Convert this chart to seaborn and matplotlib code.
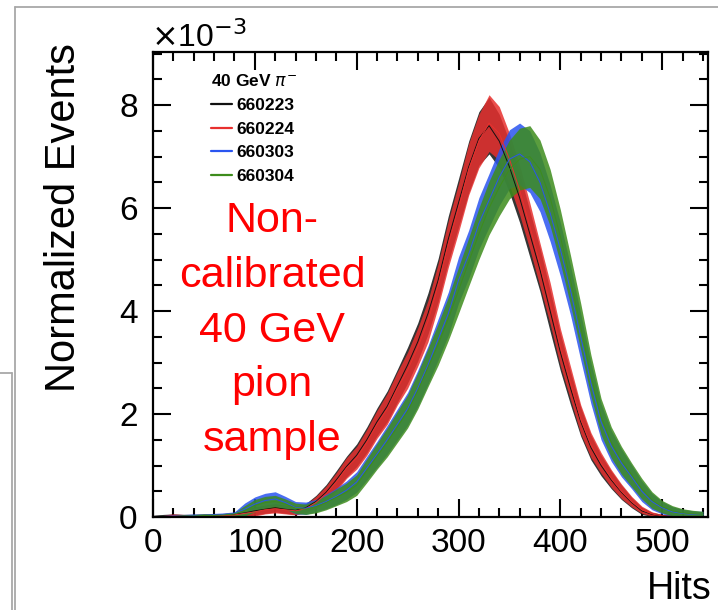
import numpy as np
import pandas as pd
import matplotlib
matplotlib.use("Agg")
import matplotlib.pyplot as plt
import seaborn as sns
from matplotlib.ticker import MultipleLocator, FuncFormatter
from matplotlib.lines import Line2D

# ---------------- data (normalized events in units of 1e-3) ----------------
hits = list(range(0, 550, 10))
runs = ["660223", "660224", "660303", "660304"]
colors = ["#111111", "#e8302e", "#2a55f0", "#3d8c1c"]

events_660223 = [0.0, 0.02, 0.03, 0.02, 0.02, 0.03, 0.03, 0.04, 0.05, 0.08,
                 0.12, 0.15, 0.18, 0.15, 0.13, 0.18, 0.30, 0.48, 0.72, 0.98,
                 1.20, 1.50, 1.85, 2.15, 2.55, 2.95, 3.40, 3.95, 4.60, 5.40,
                 6.10, 6.80, 7.35, 7.60, 7.30, 6.80, 6.20, 5.50, 4.80, 4.00,
                 3.20, 2.50, 1.85, 1.35, 1.00, 0.72, 0.48, 0.28, 0.12, 0.05,
                 0.02, 0.01, 0.0, 0.0, 0.0]
events_660224 = [0.0, 0.01, 0.03, 0.02, 0.02, 0.02, 0.03, 0.03, 0.04, 0.07,
                 0.10, 0.14, 0.16, 0.14, 0.12, 0.16, 0.28, 0.45, 0.68, 0.95,
                 1.15, 1.45, 1.80, 2.10, 2.50, 2.85, 3.30, 3.80, 4.50, 5.30,
                 6.00, 6.75, 7.30, 7.65, 7.45, 6.95, 6.35, 5.65, 4.90, 4.15,
                 3.30, 2.60, 1.90, 1.40, 1.05, 0.75, 0.50, 0.30, 0.14, 0.06,
                 0.02, 0.01, 0.0, 0.0, 0.0]
events_660303 = [0.0, 0.01, 0.02, 0.02, 0.03, 0.03, 0.04, 0.05, 0.07, 0.15,
                 0.25, 0.32, 0.35, 0.28, 0.18, 0.17, 0.22, 0.30, 0.40, 0.52,
                 0.68, 0.95, 1.22, 1.50, 1.80, 2.10, 2.50, 2.95, 3.45, 3.95,
                 4.60, 5.10, 5.70, 6.15, 6.60, 6.95, 7.05, 6.90, 6.50, 5.90,
                 5.20, 4.40, 3.50, 2.60, 1.85, 1.38, 1.05, 0.78, 0.50, 0.30,
                 0.18, 0.10, 0.07, 0.05, 0.05]
events_660304 = [0.0, 0.01, 0.01, 0.02, 0.02, 0.03, 0.03, 0.04, 0.06, 0.12,
                 0.22, 0.28, 0.30, 0.25, 0.17, 0.15, 0.20, 0.28, 0.38, 0.48,
                 0.62, 0.90, 1.18, 1.45, 1.75, 2.05, 2.45, 2.90, 3.35, 3.85,
                 4.40, 4.95, 5.50, 6.00, 6.40, 6.75, 6.95, 7.00, 6.75, 6.20,
                 5.45, 4.60, 3.70, 2.75, 1.95, 1.45, 1.10, 0.82, 0.55, 0.33,
                 0.20, 0.12, 0.08, 0.06, 0.05]

# bin-to-bin fluctuation half-width (units of 1e-3)
spread_660223 = [0.03, 0.03, 0.03, 0.03, 0.03, 0.03, 0.03, 0.03, 0.03, 0.08,
                 0.08, 0.08, 0.08, 0.08, 0.08, 0.08, 0.12, 0.15, 0.18, 0.20,
                 0.22, 0.25, 0.27, 0.30, 0.32, 0.35, 0.37, 0.40, 0.42, 0.45,
                 0.47, 0.50, 0.52, 0.55, 0.52, 0.50, 0.48, 0.45, 0.42, 0.40,
                 0.36, 0.32, 0.28, 0.24, 0.20, 0.17, 0.14, 0.10, 0.07, 0.04,
                 0.03, 0.02, 0.02, 0.02, 0.02]
spread_660224 = [0.03, 0.03, 0.03, 0.03, 0.03, 0.03, 0.03, 0.03, 0.03, 0.08,
                 0.08, 0.08, 0.08, 0.08, 0.08, 0.08, 0.12, 0.15, 0.18, 0.20,
                 0.22, 0.25, 0.27, 0.30, 0.32, 0.35, 0.37, 0.40, 0.42, 0.45,
                 0.47, 0.50, 0.52, 0.55, 0.52, 0.50, 0.48, 0.45, 0.42, 0.40,
                 0.36, 0.32, 0.28, 0.24, 0.20, 0.17, 0.14, 0.10, 0.07, 0.04,
                 0.03, 0.02, 0.02, 0.02, 0.02]
spread_660303 = [0.03, 0.03, 0.03, 0.03, 0.03, 0.03, 0.03, 0.03, 0.03, 0.12,
                 0.14, 0.14, 0.14, 0.12, 0.12, 0.12, 0.12, 0.14, 0.16, 0.18,
                 0.20, 0.23, 0.25, 0.28, 0.30, 0.32, 0.35, 0.37, 0.40, 0.42,
                 0.45, 0.47, 0.50, 0.52, 0.55, 0.57, 0.60, 0.60, 0.57, 0.55,
                 0.52, 0.48, 0.45, 0.40, 0.35, 0.30, 0.27, 0.23, 0.20, 0.16,
                 0.12, 0.10, 0.08, 0.07, 0.06]
spread_660304 = [0.03, 0.03, 0.03, 0.03, 0.03, 0.03, 0.03, 0.03, 0.03, 0.10,
                 0.12, 0.12, 0.12, 0.10, 0.10, 0.10, 0.12, 0.14, 0.16, 0.18,
                 0.20, 0.23, 0.25, 0.28, 0.30, 0.32, 0.35, 0.37, 0.40, 0.42,
                 0.45, 0.47, 0.50, 0.52, 0.55, 0.57, 0.60, 0.60, 0.57, 0.55,
                 0.52, 0.48, 0.45, 0.40, 0.35, 0.30, 0.27, 0.23, 0.20, 0.16,
                 0.12, 0.10, 0.08, 0.07, 0.06]

centers = [events_660223, events_660224, events_660303, events_660304]
spreads = [spread_660223, spread_660224, spread_660303, spread_660304]

rows = []
for run, cen, spr in zip(runs, centers, spreads):
    for h, v, e in zip(hits, cen, spr):
        for val in (max(v - e, 0.0), v, v + e):
            rows.append((run, h, val * 1e-3))
df = pd.DataFrame(rows, columns=["run", "hits", "events"])

# ---------------- figure ----------------
sns.set_theme(style="white")
plt.rcParams["font.family"] = ["Liberation Sans", "DejaVu Sans"]
plt.rcParams["text.color"] = "black"

fig = plt.figure(figsize=(7.18, 6.10), dpi=100)
ax = fig.add_axes([153 / 718, 1 - 517 / 610, 555 / 718, 465 / 610])

sns.lineplot(data=df, x="hits", y="events", hue="run", hue_order=runs,
             palette=colors, estimator="median", errorbar=("pi", 100),
             err_kws={"alpha": 0.85, "linewidth": 0}, linewidth=0.7, ax=ax)

ax.set_xlim(0, 545)
ax.set_ylim(0, 9.03e-3)
ax.xaxis.set_major_locator(MultipleLocator(100))
ax.xaxis.set_minor_locator(MultipleLocator(20))
ax.yaxis.set_major_locator(MultipleLocator(2e-3))
ax.yaxis.set_minor_locator(MultipleLocator(0.5e-3))
ax.yaxis.set_major_formatter(FuncFormatter(lambda v, p: f"{v * 1e3:.0f}"))
ax.tick_params(which="both", direction="in", top=True, right=True,
               bottom=True, left=True, width=1.5, color="black",
               labelcolor="black", labelsize=24)
ax.tick_params(which="major", length=13)
ax.tick_params(which="minor", length=6.5)
ax.tick_params(axis="x", pad=8)
ax.tick_params(axis="y", pad=11)
for sp in ax.spines.values():
    sp.set_visible(True)
    sp.set_color("black")
    sp.set_linewidth(1.6)
ax.set_xlabel("")
ax.set_ylabel("")

handles, labels = ax.get_legend_handles_labels()
for hd in handles:
    hd.set_linewidth(1.6)
ax.legend(handles, labels, title=r"40 GeV $\pi^{-}$", loc="upper left",
          bbox_to_anchor=(0.105, 0.955), frameon=False,
          prop={"weight": "bold", "size": 12.5},
          title_fontproperties={"weight": "bold", "size": 12.5},
          handlelength=1.2, handletextpad=0.25, labelspacing=0.5,
          borderpad=0, borderaxespad=0, alignment="left")

# axis titles and exponent
fig.text(64 / 718, 1 - 218 / 610, "Normalized Events", rotation=90,
         ha="center", va="center", fontsize=30)
fig.text(712 / 718, 1 - 599 / 610, "Hits", ha="right", va="baseline",
         fontsize=27)
fig.text(151 / 718, 1 - 47 / 610, r"$\times$10$^{-3}$", ha="left",
         va="baseline", fontsize=23)

# red annotation
note_lines = ["Non-", "calibrated", "40 GeV", "pion", "sample"]
baselines = [232, 287, 342, 396, 451]
for txt, yb in zip(note_lines, baselines):
    fig.text(272 / 718, 1 - yb / 610, txt, color="#ff0000", ha="center",
             va="baseline", fontsize=31)

# slide frame lines
gray = "#a8a8a8"
for xs, ys in [([15, 718], [7, 7]), ([15, 15], [7, 610]),
               ([0, 12], [373, 373]), ([12, 12], [373, 610])]:
    fig.add_artist(Line2D([x / 718 for x in xs], [1 - y / 610 for y in ys],
                          transform=fig.transFigure, color=gray, lw=1.3))

fig.savefig("out.png", dpi=100)
